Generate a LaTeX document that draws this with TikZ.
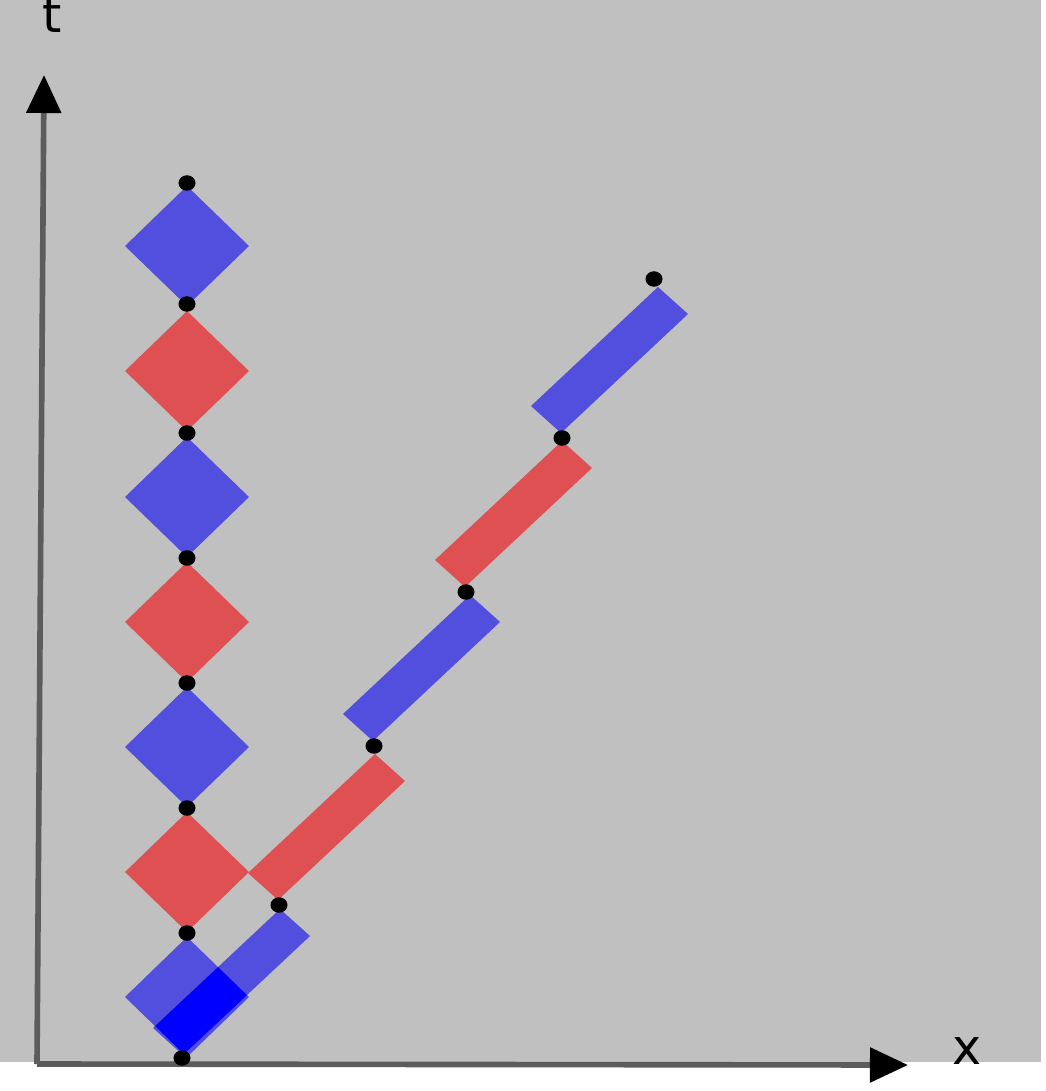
\documentclass[tikz,border=0pt]{standalone}
\usepackage{fontspec}
\setmainfont{DejaVu Sans}
\usepackage{tikz}
\usetikzlibrary{positioning,arrows.meta,shapes.geometric}

\definecolor{bgray}{HTML}{C0C0C0}
\definecolor{wblue}{HTML}{524EDE}
\definecolor{wred}{HTML}{DE5052}
\definecolor{deepblue}{HTML}{0000FF}
\definecolor{axisgray}{HTML}{5C5C5C}

\begin{document}
\begin{tikzpicture}[x=0.01cm,y=-0.01cm,
		event/.style={ellipse,fill=black,inner sep=0pt,minimum width=0.17cm,minimum height=0.155cm},
		axis/.style={axisgray,line width=1.6pt,-{Triangle[length=0.38cm,width=0.34cm,black]}},
		lbl/.style={inner sep=0pt,font=\fontsize{14}{16}\selectfont}]
				\useasboundingbox (0,0) rectangle (1045,1091);
				\fill[bgray] (0,0) rectangle (1041,1062);
				
				% axes
				\coordinate (O) at (37,1064);
				\coordinate (T) at (44,75);
				\coordinate (X) at (908,1065);
				\draw[axis] (O) -- (T);
				\draw[axis] (O) -- (X);
				
				% events
				\coordinate (o) at (182,1058);
				\coordinate (c1) at (187,183);
				\coordinate (c2) at (187,304);
				\coordinate (c3) at (187,433);
				\coordinate (c4) at (187,558);
				\coordinate (c5) at (187,683);
				\coordinate (c6) at (187,808);
				\coordinate (c7) at (187,933);
				\coordinate (p1) at (279,905);
				\coordinate (p2) at (374,746);
				\coordinate (p3) at (466,592);
				\coordinate (p4) at (562,438);
				\coordinate (p5) at (654,279);
				
				% clock at rest
				\foreach \yc/\col in {246/wblue,371/wred,497/wblue,622/wred,747/wblue,872/wred,997/wblue}
					\fill[\col] (187,\yc-60) -- (249,\yc) -- (187,\yc+60) -- (125,\yc) -- cycle;
				
				% moving clock
				\fill[wblue] (o) ++(1,-3) -- ++(127,-119) -- ++(-30,-27) -- ++(-127,119) -- cycle;
				\foreach \s/\col in {p1/wred,p2/wblue,p3/wred,p4/wblue}
					\fill[\col] (\s) ++(-1,-5) -- ++(127,-119) -- ++(-30,-27) -- ++(-127,119) -- cycle;
				
				% overlap 
				\begin{scope}
					\clip (187,937) -- (249,997) -- (187,1057) -- (125,997) -- cycle;
					\fill[deepblue] (o) ++(1,-3) -- ++(127,-119) -- ++(-30,-27) -- ++(-127,119) -- cycle;
				\end{scope}
				
				\foreach \p in {o,c1,c2,c3,c4,c5,c6,c7,p1,p2,p3,p4,p5}
					\node[event] (ev\p) at (\p) {};
				
				% labels 
				\node[lbl, above=0.42cm of T, xshift=0.08cm] (tlabel) {t};
				\node[lbl, right=0.44cm of X, yshift=0.14cm] (xlabel) {x};
			\end{tikzpicture}
\end{document}
